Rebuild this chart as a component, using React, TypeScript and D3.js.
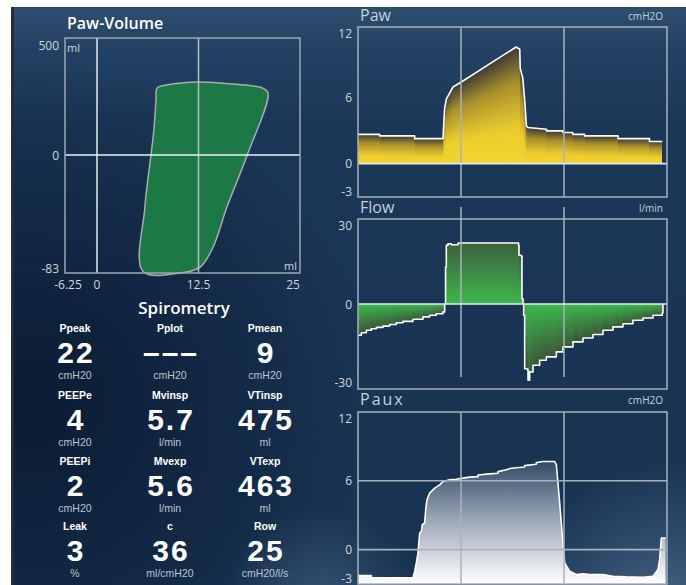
import React from 'react';
import * as d3 from 'd3';

const W = 686;
const H = 585;
const FONT = "'Open Sans', 'DejaVu Sans', sans-serif";
const SPIRO_FONT = "'Liberation Sans', Arial, sans-serif";

// ---------- Paw-Volume loop (pressure cmH2O, volume ml) ----------
const loopPressure = [5.67, 5.9, 6.65, 7.0, 7.27, 7.4, 8.6, 12.56, 16.75, 20.4, 21.06, 18.5, 16.0, 14.3, 12.7, 10.2];
const loopVolume = [-82, -36.6, 0, 107, 235, 286, 299, 312, 303, 286, 265, 0, -36.6, -64.7, -78.8, -83];
const loopXTicks = [-6.25, 0, 12.5, 25];
const loopYTicks = [500, 0, -83];

// ---------- Waveforms (time s, value) ----------
const timeDomain = [0, 6];
const gridTimes = [2, 4];

const pawTime = [0, 0.42, 0.42, 1.10, 1.10, 1.65, 1.68, 1.715, 1.845, 2.006, 3.07, 3.14, 3.15, 3.20, 3.24, 3.27, 3.30, 3.66, 3.66, 3.98, 3.98, 4.17, 4.17, 4.40, 4.40, 5.05, 5.05, 5.66, 5.66, 5.91];
const pawValue = [2.64, 2.64, 2.5, 2.5, 2.25, 2.25, 4.9, 5.8, 6.9, 7.35, 10.5, 10.3, 8.6, 7.7, 5.5, 3.4, 3.25, 3.1, 2.95, 2.95, 2.8, 2.8, 2.64, 2.64, 2.5, 2.5, 2.25, 2.25, 2.0, 2.0];
const pawTicks = [12, 6, 0, -3];

const flowTime = [0, 0.065, 0.162, 0.259, 0.356, 0.485, 0.615, 0.744, 0.874, 1.068, 1.262, 1.391, 1.521, 1.65, 1.683, 1.70, 1.715, 1.747, 1.812, 1.909, 1.942, 3.074, 3.119, 3.126, 3.171, 3.184, 3.204, 3.217, 3.236, 3.281, 3.301, 3.333, 3.398, 3.527, 3.657, 3.851, 3.98, 4.174, 4.369, 4.563, 4.757, 4.951, 5.145, 5.339, 5.534, 5.728, 5.909, 5.922];
const flowValue = [-11.9, -10.9, -10.0, -9.4, -8.9, -8.4, -7.8, -7.1, -6.6, -5.8, -4.9, -4.3, -3.7, -3.0, 0, 14, 22.3, 22.9, 22.5, 22.5, 23.2, 23.2, 22.3, 18.5, 18.2, 2.0, 0, -4.3, -24.6, -24.8, -29.0, -25.8, -23.3, -21.4, -20.1, -18.2, -16.3, -14.4, -12.9, -11.6, -10.0, -8.7, -7.5, -6.2, -5.3, -4.3, -3.3, 0];
const flowTicks = [30, 0, -30];

const pauxTime = [0, 0.259, 0.259, 1.068, 1.100, 1.133, 1.165, 1.197, 1.23, 1.249, 1.294, 1.314, 1.34, 1.391, 1.489, 1.586, 1.65, 1.78, 1.909, 2.039, 2.168, 2.33, 2.33, 2.556, 2.718, 2.718, 2.88, 2.977, 3.236, 3.236, 3.463, 3.463, 3.592, 3.818, 3.851, 3.883, 3.916, 3.948, 3.98, 4.013, 4.11, 4.239, 4.369, 4.498, 4.757, 4.951, 5.21, 5.534, 5.728, 5.825, 5.857, 5.89, 5.974];
const pauxValue = [-2.26, -2.26, -2.46, -2.46, -1.9, -1.16, -0.3, 1.45, 1.6, 2.17, 2.32, 3.48, 4.35, 4.93, 5.36, 5.65, 5.94, 6.09, 6.14, 6.23, 6.32, 6.36, 6.5, 6.6, 6.66, 6.8, 6.96, 7.1, 7.2, 7.32, 7.45, 7.6, 7.68, 7.68, 7.4, 5.8, 4.06, 2.32, 0.58, -1.16, -1.88, -2.17, -2.12, -2.17, -2.17, -2.32, -2.38, -2.41, -2.32, -1.74, -0.87, 1.01, 1.01];
const pauxTicks = [12, 6, 0, -3];

// ---------- Spirometry ----------
const spiroLabels = ['Ppeak', 'Pplot', 'Pmean', 'PEEPe', 'Mvinsp', 'VTinsp', 'PEEPi', 'Mvexp', 'VTexp', 'Leak', 'c', 'Row'];
const spiroValues = ['22', '---', '9', '4', '5.7', '475', '2', '5.6', '463', '3', '36', '25'];
const spiroUnits = ['cmH20', 'cmH20', 'cmH20', 'cmH20', 'l/min', 'ml', 'cmH20', 'l/min', 'ml', '%', 'ml/cmH20', 'cmH20/l/s'];

type Pt = [number, number];
const zip = (a: number[], b: number[]): Pt[] => a.map((v, i) => [v, b[i]]);

function linearAt(data: Pt[], t: number): number | null {
  for (let i = 0; i < data.length - 1; i++) {
    const [t0, v0] = data[i];
    const [t1, v1] = data[i + 1];
    if (t >= t0 && t <= t1) {
      if (t1 === t0) return v1;
      return v0 + ((v1 - v0) * (t - t0)) / (t1 - t0);
    }
  }
  return null;
}
function stepAt(data: Pt[], t: number): number | null {
  if (t < data[0][0] || t > data[data.length - 1][0]) return null;
  let v = data[0][1];
  for (let i = 0; i < data.length; i++) {
    if (data[i][0] <= t) v = data[i][1];
    else break;
  }
  return v;
}

export default function App() {
  const xT = d3.scaleLinear().domain(timeDomain).range([358, 667]);

  const lx = d3.scaleLinear().domain([-6.25, 0, 25]).range([65, 97, 300]);
  const ly = d3.scaleLinear().domain([-83, 0, 500]).range([273, 155, 38]);
  const loopPts: Pt[] = zip(loopPressure, loopVolume);
  const loopPath = d3
    .line<Pt>()
    .x((d) => lx(d[0]))
    .y((d) => ly(d[1]))
    .curve(d3.curveCatmullRomClosed.alpha(0.5))(loopPts) as string;

  const panels = [
    {
      key: 'paw', title: 'Paw', unit: 'cmH2O', data: zip(pawTime, pawValue), ticks: pawTicks,
      y: d3.scaleLinear().domain([-3, 12.3]).range([197, 27]), top: 27, bottom: 197,
      hlines: [0], hColor: '#e4e8ec', mode: 'cols', curve: d3.curveLinear, at: linearAt,
      gridShift: 0, titleY: 21, ls: 0,
    },
    {
      key: 'flow', title: 'Flow', unit: 'l/min', data: zip(flowTime, flowValue), ticks: flowTicks,
      y: d3.scaleLinear().domain([-32.3, 32.3]).range([389, 219]), top: 219, bottom: 389,
      hlines: [0], hColor: '#e4e8ec', mode: 'cols', curve: d3.curveStepAfter, at: stepAt,
      gridShift: -12, titleY: 213, ls: 0,
    },
    {
      key: 'paux', title: 'Paux', unit: 'cmH2O', data: zip(pauxTime, pauxValue), ticks: pauxTicks,
      y: d3.scaleLinear().domain([-3, 12]).range([584, 412]), top: 412, bottom: 584,
      hlines: [6, 0], hColor: '#a9b1ba', mode: 'area', curve: d3.curveLinear, at: linearAt,
      gridShift: 0, titleY: 405, ls: 2,
    },
  ];

  const colX = [75, 170, 265];
  const rowY = [328, 395, 461, 526];

  return (
    <svg width={W} height={H} style={{ position: 'absolute', left: 0, top: 0, display: 'block' }} fontFamily={FONT}>
      <defs>
        <linearGradient id="bgV" gradientUnits="userSpaceOnUse" x1="0" y1="7" x2="0" y2="585">
          <stop offset="0" stopColor="#2e4e70" />
          <stop offset="0.07" stopColor="#234263" />
          <stop offset="0.2" stopColor="#1b3757" />
          <stop offset="1" stopColor="#183251" />
        </linearGradient>
        <radialGradient id="bgDark" gradientUnits="userSpaceOnUse" cx="30" cy="400" r="340">
          <stop offset="0" stopColor="#07152c" stopOpacity="0.8" />
          <stop offset="0.6" stopColor="#07152c" stopOpacity="0.35" />
          <stop offset="1" stopColor="#07152c" stopOpacity="0" />
        </radialGradient>
        <radialGradient id="bgBR" gradientUnits="userSpaceOnUse" cx="670" cy="630" r="170">
          <stop offset="0" stopColor="#5a7c9c" stopOpacity="0.75" />
          <stop offset="1" stopColor="#5a7c9c" stopOpacity="0" />
        </radialGradient>
        <radialGradient id="bgBM" gradientUnits="userSpaceOnUse" cx="320" cy="605" r="100">
          <stop offset="0" stopColor="#5a7c9c" stopOpacity="0.45" />
          <stop offset="1" stopColor="#5a7c9c" stopOpacity="0" />
        </radialGradient>
        <linearGradient id="gPaw" x1="0" y1="0" x2="0" y2="1">
          <stop offset="0" stopColor="#3c3b36" />
          <stop offset="0.3" stopColor="#a88f2c" />
          <stop offset="0.7" stopColor="#ebcc2e" />
          <stop offset="1" stopColor="#f3d52e" />
        </linearGradient>
        <linearGradient id="gFlowPos" x1="0" y1="0" x2="0" y2="1">
          <stop offset="0" stopColor="#3d603e" />
          <stop offset="1" stopColor="#3cb84c" />
        </linearGradient>
        <linearGradient id="gFlowNeg" x1="0" y1="0" x2="0" y2="1">
          <stop offset="0" stopColor="#3cb84c" />
          <stop offset="1" stopColor="#3b563a" />
        </linearGradient>
        <linearGradient id="gPaux" gradientUnits="userSpaceOnUse" x1="0" y1="455" x2="0" y2="584">
          <stop offset="0" stopColor="#26405e" />
          <stop offset="0.5" stopColor="#9ba6b6" />
          <stop offset="1" stopColor="#ffffff" />
        </linearGradient>
      </defs>

      {/* background */}
      <rect x={0} y={0} width={W} height={H} fill="#ffffff" />
      <rect x={14} y={7} width={W - 14} height={H - 7} fill="url(#bgV)" />
      <rect x={14} y={7} width={W - 14} height={H - 7} fill="url(#bgDark)" />
      <rect x={14} y={7} width={W - 14} height={H - 7} fill="url(#bgBR)" />
      <rect x={14} y={7} width={W - 14} height={H - 7} fill="url(#bgBM)" />
      <rect x={11} y={7} width={3} height={H - 7} fill="#2c2c2e" />

      {/* ---------- Paw-Volume ---------- */}
      <text x={67} y={29} fill="#ffffff" fontSize={16} fontWeight={600}>Paw-Volume</text>
      <path d={loopPath} fill="#1c7845" stroke="#a9acae" strokeWidth={1.5} />
      <line x1={lx(0)} x2={lx(0)} y1={ly(500)} y2={ly(-83)} stroke="#e6eaee" strokeWidth={1.5} />
      <line x1={lx(12.5)} x2={lx(12.5)} y1={ly(500)} y2={ly(-83)} stroke="#b9c0c8" strokeWidth={1.5} />
      <line x1={lx(-6.25)} x2={lx(25)} y1={ly(0)} y2={ly(0)} stroke="#eef1f3" strokeWidth={1.6} />
      <rect x={lx(-6.25)} y={ly(500)} width={lx(25) - lx(-6.25)} height={ly(-83) - ly(500)} fill="none" stroke="#9ea7b0" strokeWidth={1.5} />
      {loopYTicks.map((v) => (
        <text key={'ly' + v} x={59} y={Math.min(Math.max(ly(v), ly(500) + 7), ly(-83) - 5)} textAnchor="end" dominantBaseline="central" fill="#d2d7dc" fontSize={12}>{v}</text>
      ))}
      {loopXTicks.map((v) => (
        <text key={'lx' + v} x={Math.min(Math.max(lx(v), lx(-6.25) + 3), lx(25) - 7)} y={284} textAnchor="middle" dominantBaseline="central" fill="#d2d7dc" fontSize={12}>{v}</text>
      ))}
      <text x={67} y={47} dominantBaseline="central" fill="#d2d7dc" fontSize={11}>ml</text>
      <text x={297} y={265} textAnchor="end" dominantBaseline="central" fill="#d2d7dc" fontSize={11}>ml</text>

      {/* ---------- Spirometry ---------- */}
      <text x={184} y={307} textAnchor="middle" dominantBaseline="central" fill="#ffffff" fontSize={17} fontWeight={600}>Spirometry</text>
      <g fontFamily={SPIRO_FONT}>
        {spiroLabels.map((lab, i) => {
          const cx = colX[i % 3];
          const ry = rowY[Math.floor(i / 3)];
          const dash = spiroValues[i] === '---';
          return (
            <g key={lab}>
              <text x={cx} y={ry + 3.8} textAnchor="middle" fill="#ffffff" fontSize={10.5} fontWeight={700}>{lab}</text>
              <text x={cx + 1} y={ry + 34.5} textAnchor="middle" fill="#ffffff" fontSize={30} fontWeight={700} letterSpacing={2}>{dash ? '\u2013\u2013\u2013' : spiroValues[i]}</text>
              <text x={cx} y={ry + 51} textAnchor="middle" fill="#bcc4cc" fontSize={10.5}>{spiroUnits[i]}</text>
            </g>
          );
        })}
      </g>

      {/* ---------- Waveforms ---------- */}
      {panels.map((p) => {
        const y = p.y;
        const line = d3.line<Pt>().x((d) => xT(d[0])).y((d) => y(d[1])).curve(p.curve)(p.data) as string;
        let fill: React.ReactNode = null;
        if (p.mode === 'area') {
          const area = d3.area<Pt>().x((d) => xT(d[0])).y0(p.bottom).y1((d) => y(d[1])).curve(p.curve)(p.data) as string;
          fill = <path d={area} fill="url(#gPaux)" />;
        } else {
          const x0 = Math.floor(xT(p.data[0][0]));
          const x1 = Math.ceil(xT(p.data[p.data.length - 1][0]));
          const rects: React.ReactNode[] = [];
          for (let px = x0; px < x1; px++) {
            const v = p.at(p.data, xT.invert(px + 0.5));
            if (v == null || Math.abs(v) < 1e-6) continue;
            const yv = y(v);
            const y0 = y(0);
            const grad = p.key === 'paw' ? 'url(#gPaw)' : v > 0 ? 'url(#gFlowPos)' : 'url(#gFlowNeg)';
            rects.push(<rect key={px} x={px} y={Math.min(yv, y0)} width={1} height={Math.abs(y0 - yv)} fill={grad} />);
          }
          fill = <g>{rects}</g>;
        }
        return (
          <g key={p.key}>
            <text x={360} y={p.titleY} fill="#c9d0d7" fontSize={16} letterSpacing={p.ls}>{p.title}</text>
            <text x={663} y={p.titleY - 1} textAnchor="end" fill="#c9d0d7" fontSize={10}>{p.unit}</text>
            {fill}
            <path d={line} fill="none" stroke="#ffffff" strokeWidth={1.6} strokeLinejoin="round" />
            {gridTimes.map((t) => (
              <line key={t} x1={xT(t)} x2={xT(t)} y1={p.top + p.gridShift} y2={p.bottom + p.gridShift} stroke="#aab2bb" strokeWidth={1.5} />
            ))}
            {p.hlines.map((h) => (
              <line key={'h' + h} x1={xT(0)} x2={xT(6)} y1={y(h)} y2={y(h)} stroke={p.hColor} strokeWidth={1.6} />
            ))}
            <rect x={xT(0)} y={p.top} width={xT(6) - xT(0)} height={p.bottom - p.top} fill="none" stroke="#a8b0b9" strokeWidth={1.5} />
            {p.ticks.map((v) => (
              <text key={'t' + v} x={352} y={Math.min(Math.max(y(v), p.top + 6), p.bottom - 6)} textAnchor="end" dominantBaseline="central" fill="#d2d7dc" fontSize={12}>{v}</text>
            ))}
          </g>
        );
      })}
    </svg>
  );
}
